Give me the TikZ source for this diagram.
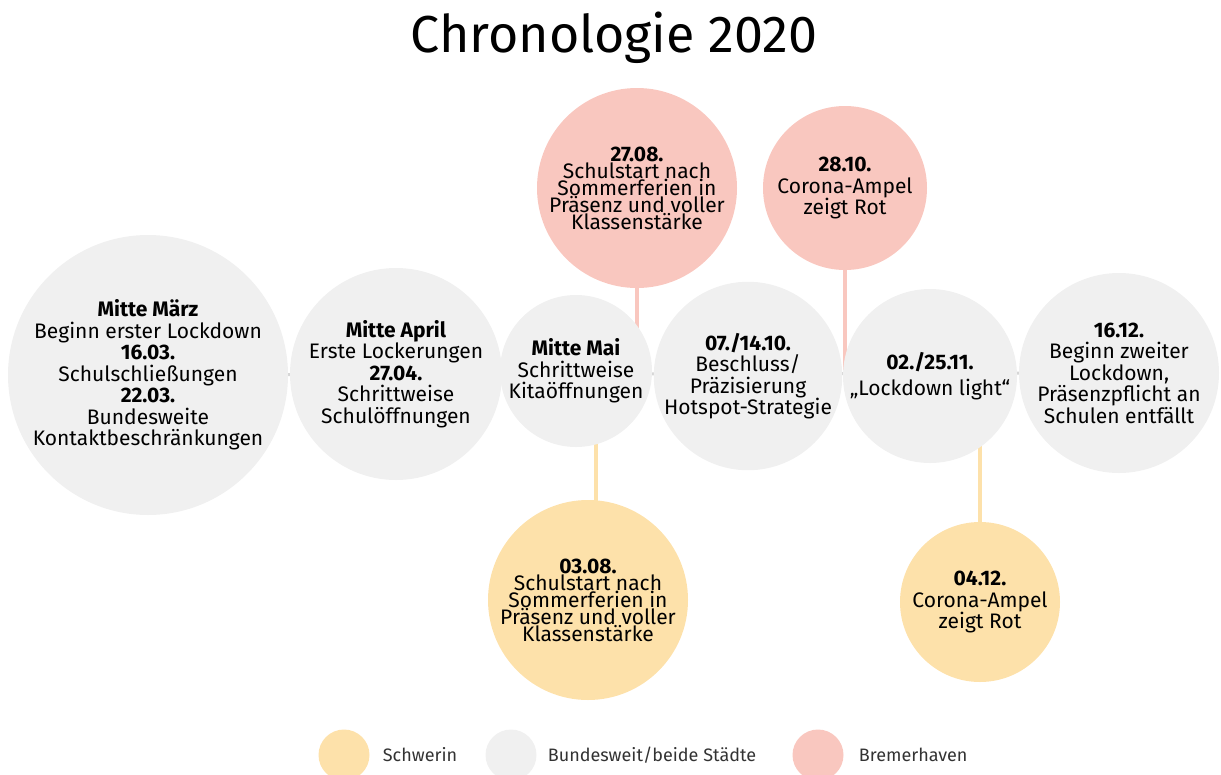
\documentclass[tikz,border=0pt]{standalone}
\usepackage{fontspec}
\setmainfont{Fira Sans}
\usepackage{tikz}
\usetikzlibrary{positioning}
\usetikzlibrary{backgrounds}
\definecolor{bundgray}{HTML}{F0F0F0}
\definecolor{bremerpink}{HTML}{F9C7BF}
\definecolor{schwerinyellow}{HTML}{FDE1AA}
\definecolor{timelinegray}{HTML}{D6D6D6}
\definecolor{legendtext}{HTML}{333333}
\tikzset{
  event/.style={circle, inner sep=0pt, align=center, text=black, font=\fontsize{21}{21.5}\selectfont},
  tightevent/.style={event, font=\fontsize{21}{17}\selectfont},
  bund/.style={event, fill=bundgray},
  bremer/.style={tightevent, fill=bremerpink},
  schwerin/.style={tightevent, fill=schwerinyellow},
  stem/.style={line width=4pt},
  legenddot/.style={circle, inner sep=0pt, minimum size=51pt},
  legendlabel/.style={inner sep=0pt, text=legendtext, font=\fontsize{18}{20}\selectfont},
}

\begin{document}
\begin{tikzpicture}[x=1pt, y=-1pt]
    \useasboundingbox (0,0) rectangle (1221,774);
    \node [font=\fontsize{52}{56}\selectfont] (Title) at (614,38) {Chronologie 2020};

    % timeline
    \node [bund, minimum size=280pt] (Maerz) at (148,375) {\textbf{Mitte März}\\Beginn erster Lockdown\\\textbf{16.03.}\\Schulschließungen\\\textbf{22.03.}\\Bundesweite\\Kontaktbeschränkungen};
    \node [bund, minimum size=212pt] (April) at (396,374) {\textbf{Mitte April}\\Erste Lockerungen\\\textbf{27.04.}\\Schrittweise\\Schulöffnungen};
    \node [bund, minimum size=152pt] (Mai) at (576,371) {\textbf{Mitte Mai}\\Schrittweise\\Kitaöffnungen};
    \node [bund, minimum size=188pt] (Okt) at (748,376) {\textbf{07./14.10.}\\Beschluss/\\Präzisierung\\Hotspot-Strategie};
    \node [bund, minimum size=174pt] (Nov) at (930,376) {\textbf{02./25.11.}\\[5pt]„Lockdown light“};
    \node [bund, minimum size=200pt] (Dez) at (1119,373) {\textbf{16.12.}\\Beginn zweiter\\Lockdown,\\Präsenzpflicht an\\Schulen entfällt};

    % Bremerhaven
    \node [bremer, minimum size=200pt] (SchulstartHB) at (637,188) {\textbf{27.08.}\\Schulstart nach\\Sommerferien in\\Präsenz und voller\\Klassenstärke};
    \node [bremer, minimum size=164pt, font=\fontsize{21}{21.5}\selectfont] (AmpelHB) at (845,188) {\textbf{28.10.}\\Corona-Ampel\\zeigt Rot};

    % Schwerin
    \node [schwerin, minimum size=200pt] (SchulstartSN) at (588,600) {\textbf{03.08.}\\Schulstart nach\\Sommerferien in\\Präsenz und voller\\Klassenstärke};
    \node [schwerin, minimum size=160pt, font=\fontsize{21}{21.5}\selectfont] (AmpelSN) at (980,602) {\textbf{04.12.}\\Corona-Ampel\\zeigt Rot};

    \begin{scope}[on background layer]
        \draw [timelinegray, line width=3pt] (Maerz.center)--(Dez.center);
        \draw [stem, bremerpink] (SchulstartHB.center)--(SchulstartHB.center |- Mai.center);
        \draw [stem, bremerpink] (AmpelHB.center)--(AmpelHB.center |- Nov.center);
        \draw [stem, schwerinyellow] ([xshift=8pt]SchulstartSN.center)--([xshift=8pt]SchulstartSN.center |- Mai.center);
        \draw [stem, schwerinyellow] (AmpelSN.center)--(AmpelSN.center |- Nov.center);
    \end{scope}

    % legend
    \node [legenddot, fill=schwerinyellow] (LegSchwerin) at (344,755) {};
    \node [legendlabel, right=13pt of LegSchwerin] (LegSchwerinText) {Schwerin};
    \node [legenddot, fill=bundgray] (LegBund) at (511,755) {};
    \node [legendlabel, right=11pt of LegBund] (LegBundText) {Bundesweit/beide Städte};
    \node [legenddot, fill=bremerpink] (LegBremer) at (818,755) {};
    \node [legendlabel, right=15pt of LegBremer] (LegBremerText) {Bremerhaven};
\end{tikzpicture}
\end{document}
